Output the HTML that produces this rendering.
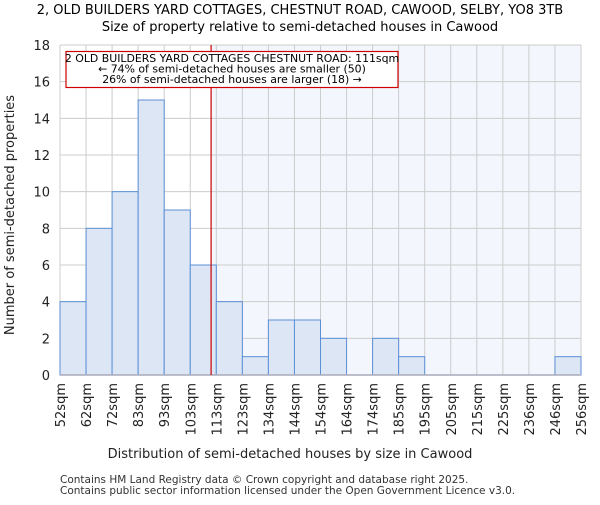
<!DOCTYPE html>
<html><head><meta charset="utf-8"><style>body{margin:0;background:#fff}svg{font-family:"DejaVu Sans","Liberation Sans",sans-serif}</style></head>
<body>
<svg id="c" width="600" height="500" xmlns="http://www.w3.org/2000/svg"></svg>
<script>
const categories=["52sqm","62sqm","72sqm","83sqm","93sqm","103sqm","113sqm","123sqm","134sqm","144sqm","154sqm","164sqm","174sqm","185sqm","195sqm","205sqm","215sqm","225sqm","236sqm","246sqm","256sqm"];
const counts=[4,8,10,15,9,6,4,1,3,3,2,0,2,1,0,0,0,0,0,1];
const yTicks=[0,2,4,6,8,10,12,14,16,18];
const markerBin=5.8;
const NS="http://www.w3.org/2000/svg";
const svg=document.getElementById('c');
const L=60,R=581,T=45,B=375,n=counts.length;
const bw=(R-L)/n;
const x=i=>L+i*bw;
const y=v=>B-(v/18)*(B-T);
function mk(tag,a,txt){const e=document.createElementNS(NS,tag);for(const k in a)e.setAttribute(k,a[k]);if(txt!==undefined)e.textContent=txt;svg.appendChild(e);return e;}
const mx=x(markerBin);
let e=mk('rect',{x:mx,y:T,width:R-mx,height:B-T,fill:'#f3f6fd'});


for(let i=0;i<=n;i++){e=mk('line',{x1:x(i),x2:x(i),y1:T,y2:B,stroke:'#cccccc'});

}
yTicks.forEach(t=>{e=mk('line',{x1:L,x2:R,y1:y(t),y2:y(t),stroke:'#cccccc'});


e=mk('text',{x:L-10,y:y(t)+5,'text-anchor':'end','font-size':13,fill:'#222'},t);

});
counts.forEach((v,i)=>{if(v<=0)return;e=mk('rect',{x:x(i),y:y(v),width:bw,height:B-y(v),fill:'#dce6f4',stroke:'#5b8fd6','stroke-width':1});

});
e=mk('line',{x1:L,x2:R,y1:B,y2:B,stroke:'#aab',"stroke-width":1.5});


categories.forEach((c,i)=>{const tx=x(i)+5;e=mk('text',{x:0,y:0,transform:`translate(${tx},383) rotate(-90)`,'text-anchor':'end','font-size':13,fill:'#222'},c);

});
e=mk('line',{x1:mx,x2:mx,y1:T,y2:B,stroke:'#cc0000','stroke-width':1.2});


e=mk('rect',{x:66,y:51.5,width:332,height:36,fill:'#fff',stroke:'#cc0000','stroke-width':1.2});


["2 OLD BUILDERS YARD COTTAGES CHESTNUT ROAD: 111sqm","← 74% of semi-detached houses are smaller (50)","26% of semi-detached houses are larger (18) →"].forEach((s,i)=>{e=mk('text',{x:232,y:62+i*10.5,'text-anchor':'middle','font-size':10.9,fill:'#000'},s);

});
e=mk('text',{x:300,y:14,'text-anchor':'middle','font-size':13,fill:'#000'},"2, OLD BUILDERS YARD COTTAGES, CHESTNUT ROAD, CAWOOD, SELBY, YO8 3TB");


e=mk('text',{x:300,y:31,'text-anchor':'middle','font-size':13,fill:'#000'},"Size of property relative to semi-detached houses in Cawood");


e=mk('text',{x:0,y:0,transform:'translate(14,215) rotate(-90)','text-anchor':'middle','font-size':13,fill:'#222'},"Number of semi-detached properties");


e=mk('text',{x:290,y:458,'text-anchor':'middle','font-size':13,fill:'#222'},"Distribution of semi-detached houses by size in Cawood");


e=mk('text',{x:60,y:483,'font-size':10.5,fill:'#333'},"Contains HM Land Registry data © Crown copyright and database right 2025.");


e=mk('text',{x:60,y:494,'font-size':10.5,fill:'#333'},"Contains public sector information licensed under the Open Government Licence v3.0.");


</script>
</body></html>
